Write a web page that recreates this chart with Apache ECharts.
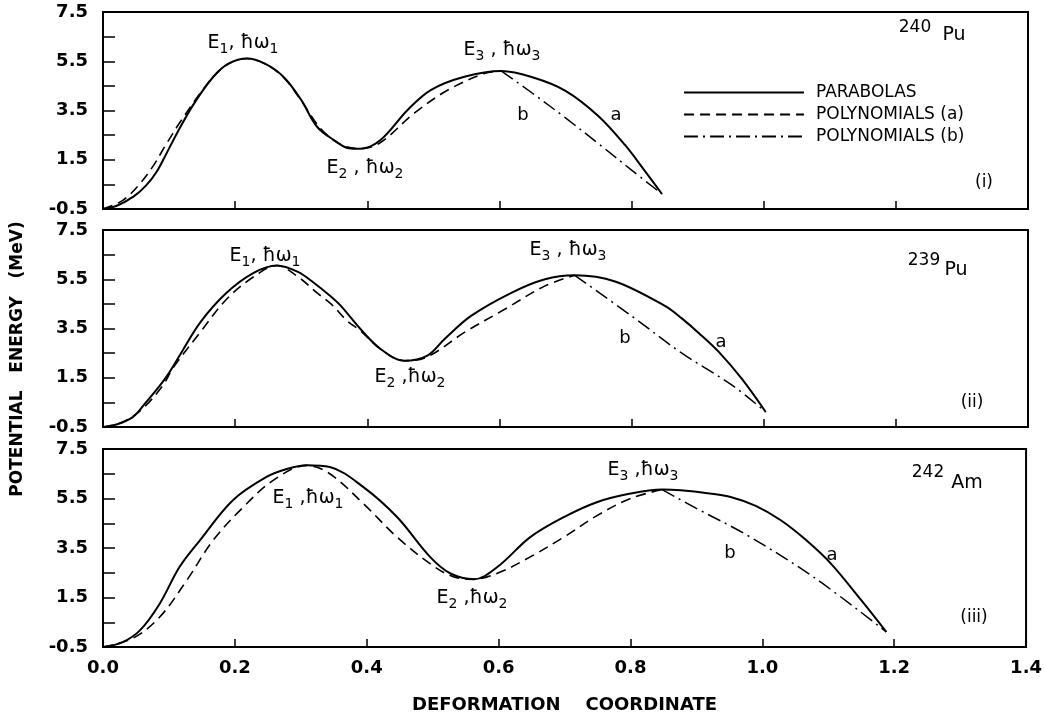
<!DOCTYPE html>
<html>
<head>
<meta charset="utf-8">
<title>Fission barriers</title>
<script src="https://cdn.jsdelivr.net/npm/echarts@6.0.0/dist/echarts.min.js"></script>
<style>
html, body { margin: 0; padding: 0; background: #fff; }
#chart { width: 1045px; height: 717px; }
</style>
</head>
<body>
<div id="chart"></div>
<script>
// axis values
const yLabels = [-0.5, 1.5, 3.5, 5.5, 7.5];
const yTicks = [-0.5, 0.5, 1.5, 2.5, 3.5, 4.5, 5.5, 6.5, 7.5];
const seriesNames = ['PARABOLAS', 'POLYNOMIALS (a)', 'POLYNOMIALS (b)'];

// (i) 240Pu
const pu240Parabolas = [[0,-0.5],[0.02,-0.38],[0.046,0.0],[0.065,0.45],[0.081,1.0],[0.096,1.75],[0.112,2.58],[0.137,3.75],[0.167,4.87],[0.19,5.4],[0.218,5.61],[0.245,5.4],[0.273,4.87],[0.299,3.97],[0.324,2.84],[0.349,2.31],[0.372,1.97],[0.39,1.95],[0.42,2.3],[0.461,3.52],[0.496,4.33],[0.547,4.87],[0.603,5.1],[0.65,4.85],[0.7,4.3],[0.75,3.27],[0.79,2.1],[0.82,1.05],[0.846,0.11]];
const pu240PolyA = [[0,-0.5],[0.03,-0.15],[0.055,0.5],[0.076,1.25],[0.095,2.1],[0.116,3.0],[0.147,4.2],[0.167,4.87],[0.19,5.4],[0.218,5.61],[0.245,5.4],[0.273,4.85],[0.3,3.9],[0.33,2.75],[0.36,2.12],[0.39,1.95],[0.42,2.2],[0.471,3.39],[0.522,4.33],[0.577,5.0],[0.603,5.1]];
const pu240PolyB = [[0.603,5.1],[0.65,4.2],[0.7,3.2],[0.75,2.15],[0.8,1.08],[0.846,0.11]];

// (ii) 239Pu
const pu239Parabolas = [[0,-0.5],[0.02,-0.4],[0.045,-0.1],[0.065,0.5],[0.086,1.18],[0.1,1.7],[0.116,2.4],[0.147,3.74],[0.187,4.95],[0.228,5.76],[0.263,6.06],[0.295,5.8],[0.319,5.36],[0.344,4.82],[0.36,4.42],[0.39,3.47],[0.42,2.67],[0.456,2.19],[0.491,2.4],[0.517,3.07],[0.557,4.01],[0.618,4.95],[0.669,5.5],[0.714,5.66],[0.775,5.41],[0.851,4.41],[0.876,3.91],[0.902,3.31],[0.932,2.55],[0.967,1.45],[1.003,0.11]];
const pu239PolyA = [[0,-0.5],[0.03,-0.3],[0.06,0.25],[0.091,1.2],[0.106,1.9],[0.147,3.34],[0.187,4.69],[0.228,5.6],[0.263,6.06],[0.295,5.6],[0.324,4.95],[0.345,4.5],[0.37,3.8],[0.39,3.4],[0.42,2.67],[0.456,2.19],[0.491,2.35],[0.547,3.34],[0.608,4.28],[0.669,5.23],[0.714,5.66]];
const pu239PolyB = [[0.714,5.66],[0.8,4.01],[0.876,2.5],[0.952,1.2],[1.003,0.11]];

// (iii) 242Am
const am242Parabolas = [[0,-0.5],[0.03,-0.3],[0.056,0.17],[0.086,1.25],[0.116,2.73],[0.147,3.81],[0.197,5.43],[0.248,6.37],[0.28,6.7],[0.309,6.84],[0.344,6.77],[0.395,5.96],[0.446,4.75],[0.496,3.14],[0.527,2.47],[0.563,2.24],[0.598,2.73],[0.648,3.94],[0.699,4.75],[0.75,5.36],[0.8,5.7],[0.848,5.86],[0.876,5.83],[0.92,5.7],[0.952,5.56],[0.99,5.2],[1.028,4.62],[1.065,3.85],[1.104,2.87],[1.15,1.39],[1.188,0.11]];
const am242PolyA = [[0,-0.5],[0.045,-0.15],[0.086,0.71],[0.127,2.19],[0.167,3.81],[0.213,5.16],[0.258,6.23],[0.309,6.84],[0.344,6.5],[0.395,5.29],[0.446,3.94],[0.496,2.87],[0.53,2.35],[0.563,2.24],[0.6,2.5],[0.648,3.14],[0.699,3.94],[0.75,4.82],[0.8,5.5],[0.848,5.86]];
const am242PolyB = [[0.848,5.86],[0.9,5.1],[0.978,4.0],[1.079,2.3],[1.188,0.11]];

const panels = [
  [pu240Parabolas, pu240PolyA, pu240PolyB],
  [pu239Parabolas, pu239PolyA, pu239PolyB],
  [am242Parabolas, am242PolyA, am242PolyB]
];

const FONT = 'DejaVu Sans';
const grids = [
  { left: 103, right: 17, top: 12, height: 197 },
  { left: 103, right: 17, top: 230, height: 197 },
  { left: 103, right: 17, top: 449, height: 198 }
];

const lineStyles = [
  { color: '#000', width: 2, type: 'solid' },
  { color: '#000', width: 1.6, type: [10, 6] },
  { color: '#000', width: 1.5, type: [14, 5, 2, 5] }
];

const xAxes = grids.map((g, i) => ({
  type: 'value', gridIndex: i, min: 0, max: 1.4, interval: 0.2,
  axisLine: { show: true, onZero: false, lineStyle: { color: '#000', width: 2 } },
  axisTick: { show: true, inside: true, length: 8, lineStyle: { color: '#000', width: 1.5 } },
  splitLine: { show: false },
  axisLabel: {
    show: i === 2, margin: 12, color: '#000', fontFamily: FONT, fontWeight: 'bold', fontSize: 18,
    formatter: v => v.toFixed(1)
  },
  name: i === 2 ? 'DEFORMATION    COORDINATE' : '',
  nameLocation: 'middle', nameGap: 49,
  nameTextStyle: { color: '#000', fontFamily: FONT, fontWeight: 'bold', fontSize: 18 }
}));

const yAxes = grids.map((g, i) => ({
  type: 'value', gridIndex: i, min: -0.5, max: 7.5,
  axisLine: { show: true, onZero: false, lineStyle: { color: '#000', width: 2 } },
  axisTick: { show: true, inside: true, length: 12, customValues: yTicks, lineStyle: { color: '#000', width: 1.5 } },
  splitLine: { show: false },
  axisLabel: {
    customValues: yLabels, margin: 15, color: '#000', fontFamily: FONT, fontWeight: 'bold', fontSize: 18,
    formatter: v => v.toFixed(1)
  }
}));

const series = [];
panels.forEach((sets, p) => {
  sets.forEach((d, k) => {
    series.push({
      name: seriesNames[k], type: 'line', xAxisIndex: p, yAxisIndex: p,
      data: d, symbol: 'none', smooth: 0.35, lineStyle: lineStyles[k], z: 3 - k
    });
  });
});

// annotation text
const eRich = {
  t: { fontFamily: FONT, fontSize: 19, lineHeight: 26, fill: '#000' },
  s: { fontFamily: FONT, fontSize: 14, lineHeight: 15, verticalAlign: 'bottom', fill: '#000' }
};
function txt(x, y, text, size, rich) {
  return {
    type: 'text', x: x, y: y, silent: true,
    style: { text: text, fill: '#000', fontFamily: FONT, fontSize: size || 18, align: 'center', verticalAlign: 'middle', rich: rich }
  };
}
const notes = [
  txt(243, 43, '{t|E}{s|1}{t|, ħω}{s|1}', 19, eRich),
  txt(365, 168, '{t|E}{s|2}{t| , ħω}{s|2}', 19, eRich),
  txt(502, 50, '{t|E}{s|3}{t| , ħω}{s|3}', 19, eRich),
  txt(523, 115, 'b'), txt(616, 115, 'a'),
  txt(915, 28, '240', 17), txt(954, 35, 'Pu', 19), txt(984, 183, '(i)', 17),

  txt(265, 256, '{t|E}{s|1}{t|, ħω}{s|1}', 19, eRich),
  txt(410, 377, '{t|E}{s|2}{t| ,ħω}{s|2}', 19, eRich),
  txt(568, 250, '{t|E}{s|3}{t| , ħω}{s|3}', 19, eRich),
  txt(625, 338, 'b'), txt(721, 342, 'a'),
  txt(924, 261, '239', 17), txt(956, 270, 'Pu', 19), txt(972, 403, '(ii)', 17),

  txt(308, 498, '{t|E}{s|1}{t| ,ħω}{s|1}', 19, eRich),
  txt(472, 598, '{t|E}{s|2}{t| ,ħω}{s|2}', 19, eRich),
  txt(643, 470, '{t|E}{s|3}{t| ,ħω}{s|3}', 19, eRich),
  txt(730, 553, 'b'), txt(832, 555, 'a'),
  txt(928, 473, '242', 17), txt(967, 483, 'Am', 19), txt(974, 618, '(iii)', 17),

  {
    type: 'text', x: 18, y: 359, rotation: Math.PI / 2, silent: true,
    style: { text: 'POTENTIAL   ENERGY   (MeV)', fill: '#000', fontFamily: FONT, fontWeight: 'bold', fontSize: 17, align: 'center', verticalAlign: 'middle' }
  }
];

const chart = echarts.init(document.getElementById('chart'));
chart.setOption({
  backgroundColor: '#fff',
  animation: false,
  grid: grids.map(g => Object.assign({ show: true, borderColor: '#000', borderWidth: 2, backgroundColor: 'transparent' }, g)),
  xAxis: xAxes,
  yAxis: yAxes,
  legend: {
    data: seriesNames, orient: 'vertical', left: 683, top: 84, padding: 0,
    itemWidth: 120, itemHeight: 14, itemGap: 5, selectedMode: false,
    itemStyle: { opacity: 0 },
    textStyle: { color: '#000', fontFamily: FONT, fontSize: 17, padding: [0, 0, 0, 7] }
  },
  series: series,
  graphic: notes
});
</script>
</body>
</html>
